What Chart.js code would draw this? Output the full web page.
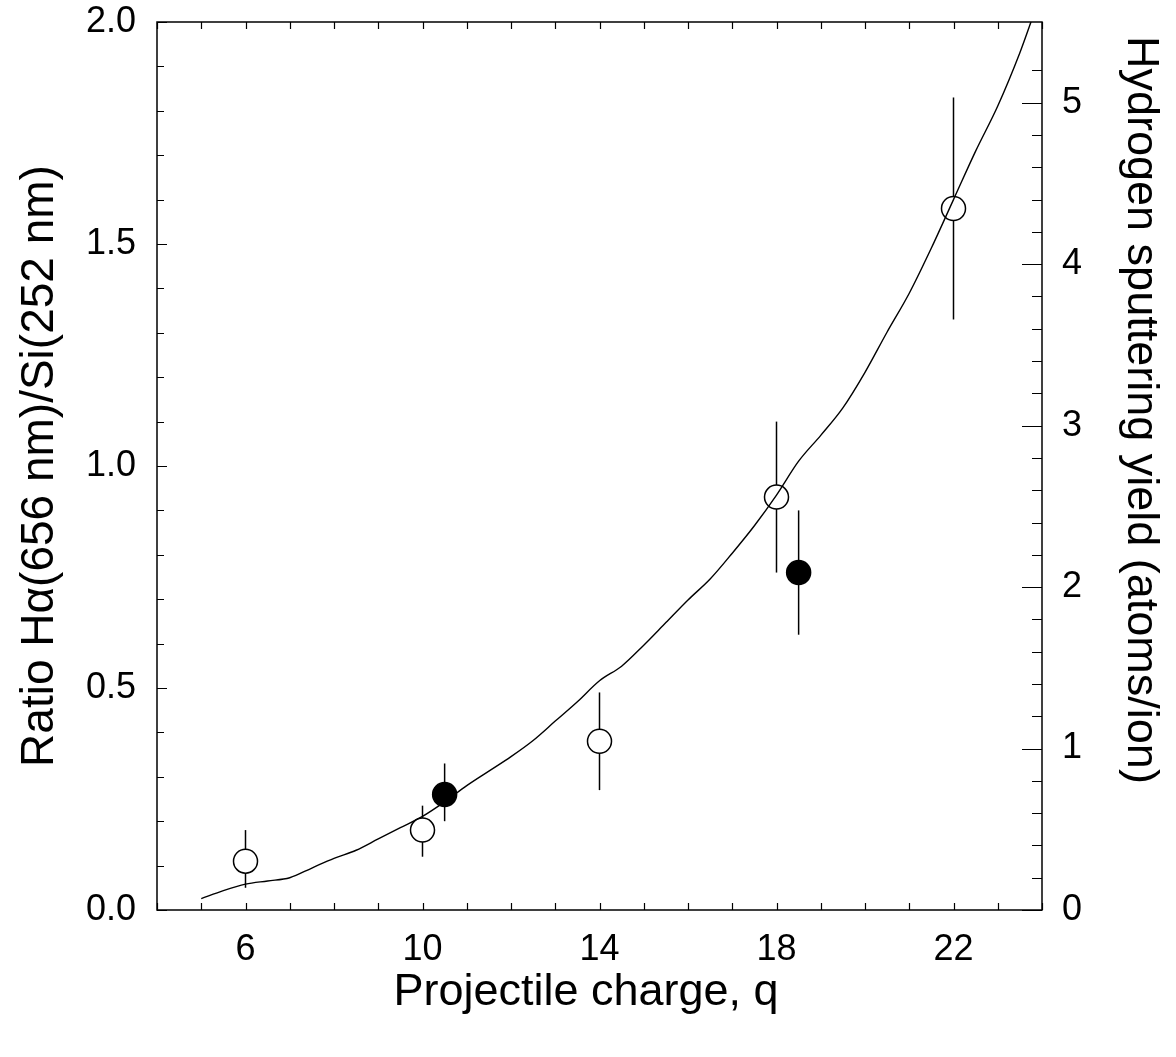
<!DOCTYPE html>
<html>
<head>
<meta charset="utf-8">
<script src="https://cdn.jsdelivr.net/npm/chart.js@4/dist/chart.umd.min.js"></script>
<style>
html,body{margin:0;padding:0;background:#fff;}
#wrap{width:1176px;height:1057px;}
</style>
</head>
<body>
<div id="wrap"><canvas id="c" width="1176" height="1057"></canvas></div>
<script>
// ---- data ----
const xLabelTicks = [6, 10, 14, 18, 22];
const openQ = [6, 10, 14, 18, 22];
const openRatio = [0.11, 0.18, 0.38, 0.93, 1.58];
const openLow = [0.05, 0.12, 0.27, 0.76, 1.33];
const openHigh = [0.18, 0.235, 0.49, 1.10, 1.83];
const filledQ = [10.5, 18.5];
const filledRatio = [0.26, 0.76];
const filledLow = [0.20, 0.62];
const filledHigh = [0.33, 0.90];
const curveQ = [5.0,5.5,6.0,6.5,7.0,7.5,8.0,8.5,9.0,9.5,10.0,10.5,11.0,11.5,12.0,12.5,13.0,13.5,14.0,14.5,15.0,15.5,16.0,16.5,17.0,17.5,18.0,18.5,19.0,19.5,20.0,20.5,21.0,21.5,22.0,22.5,23.0,23.5,23.75,24.0];
const curveYield = [0.07,0.12,0.16,0.18,0.20,0.26,0.32,0.37,0.44,0.51,0.58,0.67,0.77,0.86,0.95,1.05,1.17,1.29,1.42,1.51,1.64,1.78,1.92,2.05,2.21,2.38,2.57,2.78,2.94,3.11,3.33,3.58,3.82,4.10,4.40,4.70,4.98,5.31,5.50,5.70];
const xTitle = 'Projectile charge, q';
const yTitle = 'Ratio H\u03B1(656 nm)/Si(252 nm)';
const y2Title = 'Hydrogen sputtering yield (atoms/ion)';

const FONT = "'Liberation Sans', Arial, Helvetica, sans-serif";

const toXY = (xs, ys) => xs.map((x, i) => ({x: x, y: ys[i]}));

const errorBars = {
  id: 'errorBars',
  beforeDatasetsDraw(chart) {
    const ctx = chart.ctx, xs = chart.scales.x, ys = chart.scales.y;
    ctx.save();
    ctx.strokeStyle = '#000';
    ctx.lineWidth = 1.5;
    const draw = (q, lo, hi) => {
      q.forEach((v, i) => {
        const px = xs.getPixelForValue(v);
        ctx.beginPath();
        ctx.moveTo(px, ys.getPixelForValue(lo[i]));
        ctx.lineTo(px, ys.getPixelForValue(hi[i]));
        ctx.stroke();
      });
    };
    draw(openQ, openLow, openHigh);
    draw(filledQ, filledLow, filledHigh);
    ctx.restore();
  }
};

const frameTicks = {
  id: 'frameTicks',
  afterDraw(chart) {
    const ctx = chart.ctx, a = chart.chartArea;
    const xs = chart.scales.x, ys = chart.scales.y, y2 = chart.scales.y2;
    ctx.save();
    ctx.strokeStyle = '#000';
    ctx.lineWidth = 1.5;
    ctx.strokeRect(a.left, a.top, a.right - a.left, a.bottom - a.top);
    ctx.lineWidth = 1.2;
    ctx.beginPath();
    xs.ticks.forEach(t => {
      const px = Math.round(xs.getPixelForValue(t.value)) + 0.5;
      ctx.moveTo(px, a.bottom); ctx.lineTo(px, a.bottom - 7);
      ctx.moveTo(px, a.top); ctx.lineTo(px, a.top + 7);
    });
    ys.ticks.forEach(t => {
      const py = Math.round(ys.getPixelForValue(t.value)) + 0.5;
      const major = Math.abs(t.value * 2 - Math.round(t.value * 2)) < 1e-6;
      ctx.moveTo(a.left, py); ctx.lineTo(a.left + (major ? 10 : 7), py);
    });
    y2.ticks.forEach(t => {
      if (Math.abs(t.value * 5 - Math.round(t.value * 5)) > 1e-6) return;
      const py = Math.round(y2.getPixelForValue(t.value)) + 0.5;
      const major = Math.abs(t.value - Math.round(t.value)) < 1e-6;
      ctx.moveTo(a.right, py); ctx.lineTo(a.right - (major ? 20 : 10), py);
    });
    ctx.stroke();

    // axis titles
    ctx.fillStyle = '#000';
    ctx.textAlign = 'center';
    ctx.textBaseline = 'middle';
    ctx.font = '45px ' + FONT;
    ctx.fillText(xTitle, 586, 993);
    ctx.save();
    ctx.translate(40, (a.top + a.bottom) / 2);
    ctx.rotate(-Math.PI / 2);
    ctx.font = '46px ' + FONT;
    ctx.fillText(yTitle, 0, 0);
    ctx.restore();
    ctx.save();
    ctx.translate(1140, 36);
    ctx.rotate(Math.PI / 2);
    ctx.textAlign = 'left';
    ctx.font = '45px ' + FONT;
    ctx.fillText(y2Title, 0, 0);
    ctx.restore();
    ctx.restore();
  }
};

const noPad = s => { s.paddingTop = 0; s.paddingBottom = 0; };

new Chart(document.getElementById('c'), {
  type: 'scatter',
  data: {
    datasets: [
      {
        label: 'curve', type: 'line', yAxisID: 'y2', order: 0,
        data: toXY(curveQ, curveYield),
        borderColor: '#000', borderWidth: 1.4, pointRadius: 0,
        tension: 0.4, cubicInterpolationMode: 'monotone', fill: false
      },
      {
        label: 'open', yAxisID: 'y', order: 1,
        data: toXY(openQ, openRatio),
        pointRadius: 12, pointBackgroundColor: '#fff', pointBorderColor: '#000', pointBorderWidth: 1.5
      },
      {
        label: 'filled', yAxisID: 'y', order: 1,
        data: toXY(filledQ, filledRatio),
        pointRadius: 12, pointBackgroundColor: '#000', pointBorderColor: '#000', pointBorderWidth: 1.5
      }
    ]
  },
  options: {
    responsive: false,
    animation: false,
    events: [],
    layout: { padding: { top: 22, left: 0, right: 0, bottom: 0 } },
    plugins: { legend: { display: false }, tooltip: { enabled: false } },
    scales: {
      x: {
        type: 'linear', position: 'bottom', min: 4, max: 24,
        afterFit: s => { s.height = 147; s.paddingLeft = 0; s.paddingRight = 0; },
        grid: { display: false, drawTicks: false },
        border: { display: false },
        ticks: {
          stepSize: 1, autoSkip: false, maxRotation: 0, padding: 18,
          color: '#000', font: { family: FONT, size: 36 },
          callback: v => xLabelTicks.includes(v) ? String(v) : ''
        }
      },
      y: {
        type: 'linear', position: 'left', min: 0, max: 2,
        afterFit: s => { s.width = 157; noPad(s); },
        grid: { display: false, drawTicks: false },
        border: { display: false },
        ticks: {
          stepSize: 0.1, autoSkip: false, padding: 21,
          color: '#000', font: { family: FONT, size: 36 },
          callback: v => Math.abs(v * 2 - Math.round(v * 2)) < 1e-6 ? v.toFixed(1) : ''
        }
      },
      y2: {
        type: 'linear', position: 'right', min: 0, max: 5.5,
        afterFit: s => { s.width = 134; noPad(s); },
        grid: { display: false, drawTicks: false },
        border: { display: false },
        ticks: {
          stepSize: 0.2, autoSkip: false, padding: 20,
          color: '#000', font: { family: FONT, size: 36 },
          callback: v => Math.abs(v - Math.round(v)) < 1e-6 ? String(Math.round(v)) : ''
        }
      }
    }
  },
  plugins: [errorBars, frameTicks]
});
</script>
</body>
</html>
